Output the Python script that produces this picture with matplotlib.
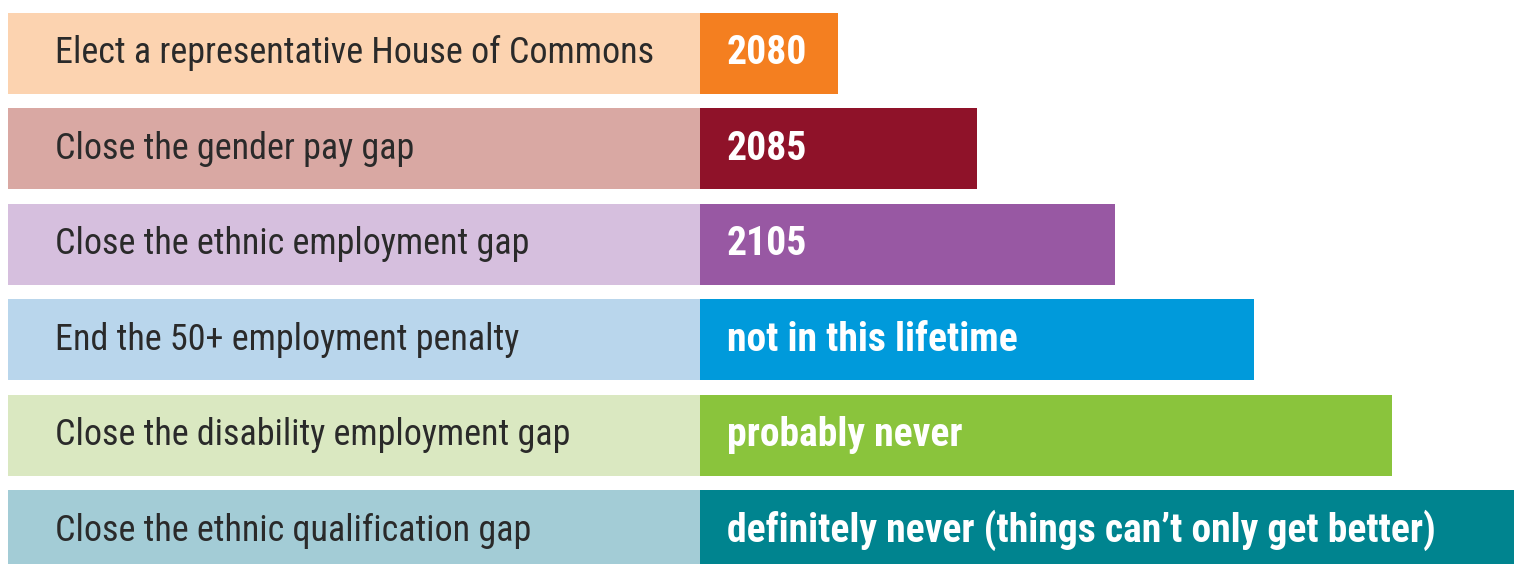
import matplotlib
matplotlib.use("Agg")
import matplotlib.pyplot as plt

goals = ["Elect a representative House of Commons",
         "Close the gender pay gap",
         "Close the ethnic employment gap",
         "End the 50+ employment penalty",
         "Close the disability employment gap",
         "Close the ethnic qualification gap"]
answers = ["2080", "2085", "2105", "not in this lifetime", "probably never",
           "definitely never (things can\u2019t only get better)"]
wait = [1, 2, 3, 4, 5, 6]  # bar length, one step per row

light = ["#FCD3B0", "#D9A8A3", "#D6BFDE", "#B9D6EC", "#DAE8C1", "#A3CCD6"]
dark = ["#F47F20", "#8F1229", "#9858A3", "#009ADB", "#8AC43C", "#00848F"]

fam = ["Roboto Condensed", "Liberation Sans", "DejaVu Sans"]

fig = plt.figure(figsize=(15.14, 5.64), dpi=100)
ax = fig.add_axes([0, 0, 1, 1])

y = range(len(goals))
ax.barh(y, [5] * len(goals), left=-5, height=0.85, color=light)
ax.barh(y, wait, left=0, height=0.85, color=dark)

for i in y:
    ax.text(-4.66, i, goals[i], va="center", ha="left", fontsize=26,
            color="#2a2a2a", family=fam)
    ax.text(0.195, i, answers[i], va="center", ha="left", fontsize=28.5,
            color="white", fontweight="bold", family=fam)

ax.set_xlim(-5.058, 5.882)
ax.set_ylim(5.35, -0.56)
ax.axis("off")

fig.savefig("out.png", dpi=100)
